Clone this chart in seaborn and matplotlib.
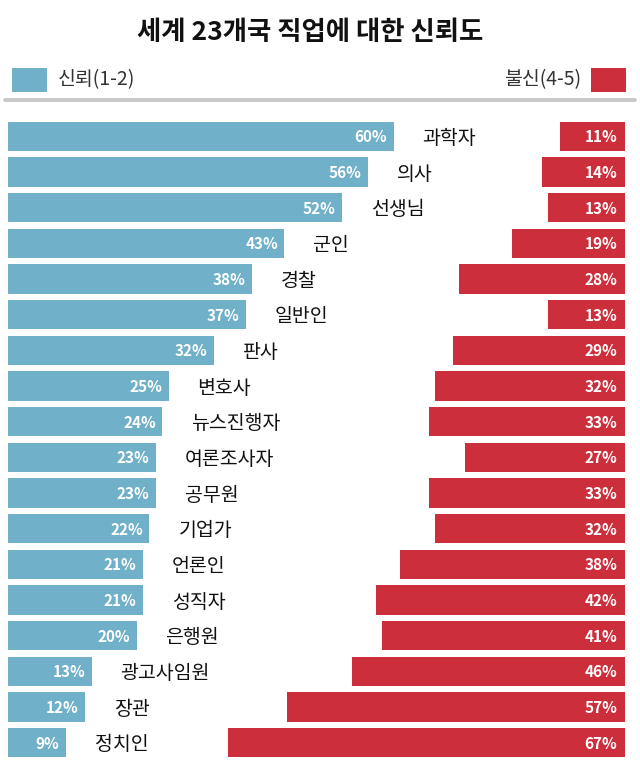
import pandas as pd
import matplotlib
matplotlib.use('Agg')
import matplotlib.pyplot as plt
from matplotlib.patches import Rectangle
from matplotlib.lines import Line2D
import seaborn as sns

sns.set_style("white")
plt.rcParams['font.family'] = ['Noto Sans CJK KR', 'DejaVu Sans']

# data
jobs = ['과학자', '의사', '선생님', '군인', '경찰', '일반인', '판사', '변호사',
        '뉴스진행자', '여론조사자', '공무원', '기업가', '언론인', '성직자',
        '은행원', '광고사임원', '장관', '정치인']
trust = [60, 56, 52, 43, 38, 37, 32, 25, 24, 23, 23, 22, 21, 21, 20, 13, 12, 9]
distrust = [11, 14, 13, 19, 28, 13, 29, 32, 33, 27, 33, 32, 38, 42, 41, 46, 57, 67]

BLUE = '#70b0c9'
RED = '#cc2f3b'

df = pd.DataFrame({'job': jobs, 'trust': trust, 'distrust': distrust})

W, H = 640, 769
fig = plt.figure(figsize=(W / 100, H / 100), dpi=100)
ax = fig.add_axes([8 / W, 1 - 760.5 / H, 617 / W, (760.5 - 118.5) / H])

sns.barplot(data=df, x='trust', y='job', color=BLUE, saturation=1,
            width=0.82, ax=ax, linewidth=0)
ax.set_xlim(0, 96)

ax2 = ax.twiny()
sns.barplot(data=df, x='distrust', y='job', color=RED, saturation=1,
            width=0.82, ax=ax2, linewidth=0)
ax2.set_xlim(104, 0)

for a in (ax, ax2):
    a.set_xlabel('')
    a.set_ylabel('')
    a.set_xticks([])
    a.set_yticks([])
    for s in a.spines.values():
        s.set_visible(False)

# value labels and job names
for i, (job, t, d) in enumerate(zip(jobs, trust, distrust)):
    ax.text(t - 1.0, i + 0.03, f'{t}%', ha='right', va='center', color='white',
            fontsize=11, fontweight='bold')
    ax.text(t + 4.5, i + 0.06, job, ha='left', va='center', color='#111111',
            fontsize=14)
    ax2.text(1.3, i + 0.03, f'{d}%', ha='right', va='center', color='white',
             fontsize=11, fontweight='bold')

# title
fig.text(310 / W, 1 - 33 / H, '세계 23개국 직업에 대한 신뢰도', ha='center',
         va='center', fontsize=19, fontweight='bold', color='#111111')

# legend
fig.add_artist(Rectangle((12 / W, 1 - 92 / H), 35 / W, 24 / H,
                         transform=fig.transFigure, color=BLUE, lw=0))
fig.text(58 / W, 1 - 80 / H, '신뢰(1-2)', ha='left', va='center',
         fontsize=14, color='#333333')
fig.add_artist(Rectangle((591 / W, 1 - 92 / H), 35 / W, 24 / H,
                         transform=fig.transFigure, color=RED, lw=0))
fig.text(581 / W, 1 - 80 / H, '불신(4-5)', ha='right', va='center',
         fontsize=14, color='#333333')
fig.add_artist(Line2D([5 / W, 635 / W], [1 - 100 / H, 1 - 100 / H],
                      transform=fig.transFigure, color='#c8c8c8', lw=2.8))

fig.savefig('out.png', dpi=100)
